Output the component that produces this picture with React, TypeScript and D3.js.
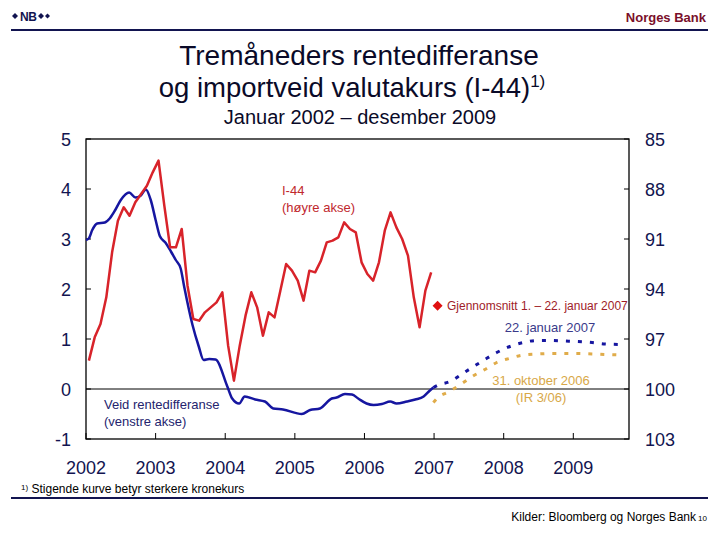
import React from "react";
import * as d3 from "d3";

const yearTicks = [2002, 2003, 2004, 2005, 2006, 2007, 2008, 2009];
const leftTicks = [5, 4, 3, 2, 1, 0, -1];
const rightTicks = [85, 88, 91, 94, 97, 100, 103];

// I-44 import-weighted exchange rate, monthly Jan 2002 - Dec 2006 (right axis, inverted)
const i44Values = [
  98.3, 96.9, 96.1, 94.5, 91.8, 89.9, 89.1, 89.6, 88.8, 88.3, 87.8, 87.0,
  86.3, 89.0, 91.5, 91.5, 90.4, 93.8, 95.8, 95.9, 95.4, 95.1, 94.8, 94.2,
  97.4, 99.5, 97.4, 95.6, 94.2, 95.1, 96.8, 95.4, 95.7, 94.1, 92.5, 92.9,
  93.5, 94.7, 92.9, 93.0, 92.3, 91.2, 91.1, 90.9, 90.0, 90.4, 90.6, 92.4,
  93.1, 93.5, 92.4, 90.5, 89.4, 90.3, 91.0, 92.0, 94.5, 96.3, 94.1, 93.0,
];
const i44Dates = i44Values.map((_, i) => 2002 + (i + 0.5) / 12);

const avgJan2007Date = 2007.05;
const avgJan2007Value = 95.0;

// Weighted interest rate differential (left axis)
const diffDates = [
  2002.0, 2002.04, 2002.09, 2002.16, 2002.27, 2002.34, 2002.42, 2002.5, 2002.62, 2002.71,
  2002.78, 2002.86, 2002.93, 2003.0, 2003.06, 2003.14, 2003.22, 2003.29, 2003.36, 2003.41,
  2003.53, 2003.62, 2003.69, 2003.77, 2003.86, 2004.03, 2004.1, 2004.2, 2004.28, 2004.43,
  2004.57, 2004.69, 2004.83, 2005.1, 2005.22, 2005.36, 2005.53, 2005.6, 2005.72, 2005.82,
  2005.91, 2006.03, 2006.13, 2006.25, 2006.37, 2006.46, 2006.61, 2006.73, 2006.85, 2006.94,
  2006.99,
];
const diffValues = [
  2.98, 3.01, 3.18, 3.31, 3.33, 3.41, 3.58, 3.78, 3.93, 3.83,
  3.86, 3.99, 3.78, 3.38, 3.06, 2.93, 2.75, 2.58, 2.41, 2.05,
  1.28, 0.85, 0.58, 0.6, 0.59, 0.05, -0.19, -0.29, -0.15, -0.21,
  -0.25, -0.39, -0.41, -0.5, -0.42, -0.39, -0.19, -0.17, -0.1, -0.11,
  -0.19, -0.29, -0.32, -0.3, -0.25, -0.29, -0.25, -0.21, -0.15, -0.03,
  0.03,
];

// Forward differential 22 January 2007
const fwdJanDates = [
  2006.99, 2007.06, 2007.23, 2007.4, 2007.57, 2007.73, 2007.9, 2008.09, 2008.28, 2008.48,
  2008.67, 2008.86, 2009.05, 2009.27, 2009.46, 2009.7,
];
const fwdJanValues = [
  0.03, 0.08, 0.15, 0.3, 0.45, 0.59, 0.73, 0.85, 0.93, 0.97,
  0.97, 0.96, 0.95, 0.93, 0.9, 0.89,
];

// Forward differential 31 October 2006 (IR 3/06)
const fwdOctDates = [
  2006.99, 2007.04, 2007.22, 2007.4, 2007.56, 2007.73, 2007.9, 2008.08, 2008.28, 2008.48,
  2008.67, 2008.86, 2009.05, 2009.27, 2009.46, 2009.7,
];
const fwdOctValues = [
  -0.27, -0.19, -0.05, 0.11, 0.26, 0.39, 0.53, 0.61, 0.68, 0.7,
  0.71, 0.71, 0.71, 0.7, 0.69, 0.68,
];

const FONT = "'Liberation Sans', Arial, sans-serif";
const NAVY = "#121450";
const RED = "#d8232a";
const BLUE = "#1616a0";
const GOLD = "#e0ac4a";

export default function App() {
  const x = d3.scaleLinear().domain([2002, 2009.8]).range([86, 629]);
  const yL = d3.scaleLinear().domain([-1, 5]).range([439, 139]);
  const yR = d3.scaleLinear().domain([103, 85]).range([439, 139]);

  const redLine = d3
    .line<number>()
    .x((_, i) => x(i44Dates[i]))
    .y((d) => yR(d))(i44Values);
  const blueLine = d3
    .line<number>()
    .x((_, i) => x(diffDates[i]))
    .y((d) => yL(d))
    .curve(d3.curveMonotoneX)(diffValues);
  const fwdJanLine = d3
    .line<number>()
    .x((_, i) => x(fwdJanDates[i]))
    .y((d) => yL(d))
    .curve(d3.curveMonotoneX)(fwdJanValues);
  const fwdOctLine = d3
    .line<number>()
    .x((_, i) => x(fwdOctDates[i]))
    .y((d) => yL(d))
    .curve(d3.curveMonotoneX)(fwdOctValues);

  const dX = x(avgJan2007Date);
  const dY = yR(avgJan2007Value);

  return (
    <svg
      width={720}
      height={540}
      style={{ position: "absolute", left: 0, top: 0, background: "#fff" }}
      fontFamily={FONT}
    >
      <rect width={720} height={540} fill="#fff" />
      {/* header */}
      <g fill={NAVY}>
        <text x={20} y={21} fontSize={12} fontWeight="bold" letterSpacing={-0.5}>NB</text>
        <path d="M12,16 l3,-3 l3,3 l-3,3 z" />
        <path d="M38,16 l3,-3 l3,3 l-3,3 z" />
        <path d="M45,16 l2.5,-2.5 l2.5,2.5 l-2.5,2.5 z" />
      </g>
      <line x1={11} x2={708} y1={30} y2={30} stroke={NAVY} strokeWidth={2} />
      <text x={706} y={22} textAnchor="end" fontSize={13} fontWeight="bold" fill="#7a0f2a">Norges Bank</text>

      {/* titles */}
      <text x={359} y={65} textAnchor="middle" fontSize={28} fill="#0a0a28">Tremåneders rentedifferanse</text>
      <text x={352} y={97} textAnchor="middle" fontSize={27.5} fill="#0a0a28">
        og importveid valutakurs (I-44)
        <tspan fontSize={17} dy={-10}>1)</tspan>
      </text>
      <text x={360} y={124} textAnchor="middle" fontSize={20} fill="#0a0a28">Januar 2002 – desember 2009</text>

      {/* plot frame */}
      <rect x={86} y={139} width={543} height={300} fill="none" stroke="#000" strokeWidth={1.3} />
      <line x1={86} x2={629} y1={yL(0)} y2={yL(0)} stroke="#000" strokeWidth={1} />

      {/* ticks */}
      {leftTicks.map((t) => (
        <g key={"l" + t}>
          <line x1={86} x2={91} y1={yL(t)} y2={yL(t)} stroke="#000" />
          <text x={71} y={yL(t) + 7} textAnchor="end" fontSize={18} fill={NAVY}>{t}</text>
        </g>
      ))}
      {rightTicks.map((t) => (
        <g key={"r" + t}>
          <line x1={624} x2={629} y1={yR(t)} y2={yR(t)} stroke="#000" />
          <text x={645} y={yR(t) + 7} textAnchor="start" fontSize={18} fill={NAVY}>{t}</text>
        </g>
      ))}
      {yearTicks.map((t) => (
        <g key={"x" + t}>
          <line x1={x(t)} x2={x(t)} y1={433} y2={439} stroke="#000" />
          <text x={x(t)} y={474} textAnchor="middle" fontSize={18} fill={NAVY}>{t}</text>
        </g>
      ))}

      {/* series */}
      <path d={fwdOctLine || ""} fill="none" stroke={GOLD} strokeWidth={3} strokeDasharray="4 8" />
      <path d={fwdJanLine || ""} fill="none" stroke={BLUE} strokeWidth={3} strokeDasharray="4 8" />
      <path d={blueLine || ""} fill="none" stroke={BLUE} strokeWidth={2.5} strokeLinejoin="round" />
      <path d={redLine || ""} fill="none" stroke={RED} strokeWidth={2.5} strokeLinejoin="round" />
      <path d={`M${dX},${dY - 5} L${dX + 5},${dY} L${dX},${dY + 5} L${dX - 5},${dY} Z`} fill="#e01010" />

      {/* annotations */}
      <text x={282} y={195} fontSize={13} fill="#c0282d">I-44</text>
      <text x={282} y={212} fontSize={13} fill="#c0282d">(høyre akse)</text>
      <text x={104} y={409} fontSize={13} fill="#24246e">Veid rentedifferanse</text>
      <text x={104} y={426} fontSize={13} fill="#24246e">(venstre akse)</text>
      <text x={447} y={310} fontSize={12} fill="#a01c28">Gjennomsnitt 1. – 22. januar 2007</text>
      <text x={550} y={332} textAnchor="middle" fontSize={13} fill="#3a3a8a">22. januar 2007</text>
      <text x={541} y={385} textAnchor="middle" fontSize={13} fill="#d8a848">31. oktober 2006</text>
      <text x={541} y={402} textAnchor="middle" fontSize={13} fill="#d8a848">(IR 3/06)</text>

      {/* footer */}
      <text x={21} y={493} fontSize={12} fill="#000">
        <tspan fontSize={8} dy={-3}>1)</tspan>
        <tspan dy={3}> Stigende kurve betyr sterkere kronekurs</tspan>
      </text>
      <line x1={11} x2={708} y1={498} y2={498} stroke={NAVY} strokeWidth={2} />
      <text x={696} y={521} textAnchor="end" fontSize={12} fill="#000">Kilder: Bloomberg og Norges Bank</text>
      <text x={698} y={521} fontSize={8} fill="#000">10</text>
    </svg>
  );
}
